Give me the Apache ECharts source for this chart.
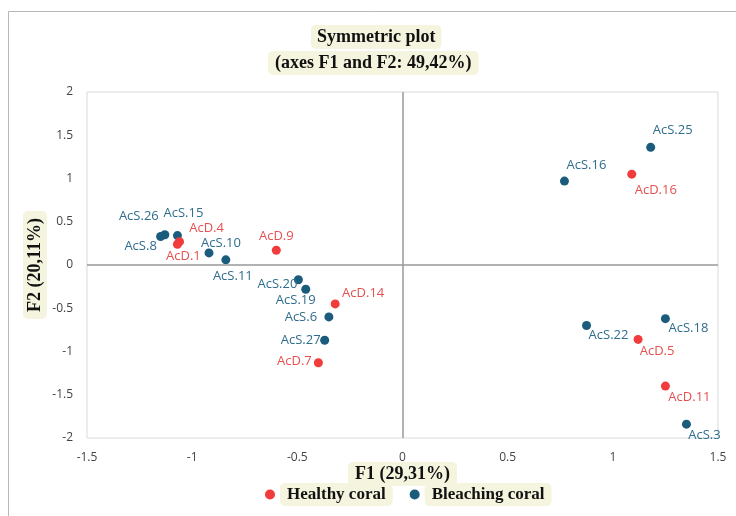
<!DOCTYPE html>
<html>
<head>
<meta charset="utf-8">
<script src="https://cdn.jsdelivr.net/npm/echarts@6/dist/echarts.min.js"></script>
<style>
  html, body { margin: 0; padding: 0; background: #fff; }
  #chart { width: 736px; height: 516px; }
</style>
</head>
<body>
<div id="chart"></div>
<script>
// healthy coral samples
const healthyNames = ['AcD.16', 'AcD.5', 'AcD.11', 'AcD.9', 'AcD.4', 'AcD.1', 'AcD.14', 'AcD.7']
const healthyX = [1.09, 1.12, 1.25, -0.60, -1.06, -1.07, -0.32, -0.40]
const healthyY = [1.05, -0.86, -1.40, 0.17, 0.27, 0.24, -0.45, -1.13]

// bleaching coral samples
const bleachingNames = ['AcS.25', 'AcS.16', 'AcS.22', 'AcS.18', 'AcS.3', 'AcS.10', 'AcS.11', 'AcS.26', 'AcS.8', 'AcS.15', 'AcS.20', 'AcS.19', 'AcS.6', 'AcS.27']
const bleachingX = [1.18, 0.77, 0.875, 1.25, 1.35, -0.92, -0.84, -1.13, -1.15, -1.07, -0.495, -0.46, -0.35, -0.37]
const bleachingY = [1.36, 0.97, -0.70, -0.62, -1.84, 0.14, 0.06, 0.35, 0.33, 0.34, -0.17, -0.28, -0.60, -0.87]

const xTicks = [-1.5, -1, -0.5, 0, 0.5, 1, 1.5]
const yTicks = [-2, -1.5, -1, -0.5, 0, 0.5, 1, 1.5, 2]

// where each label sits relative to its point (px)
const labelOffset = {
  'AcD.16': [24, 16], 'AcD.5': [19, 12], 'AcD.11': [24, 11], 'AcD.9': [0, -14],
  'AcD.4': [27, -13], 'AcD.1': [6, 12], 'AcD.14': [28, -11], 'AcD.7': [-24, -1],
  'AcS.25': [22, -17], 'AcS.16': [22, -16], 'AcS.22': [22, 10], 'AcS.18': [23, 10],
  'AcS.3': [18, 11], 'AcS.10': [12, -10], 'AcS.11': [7, 16], 'AcS.26': [-26, -18],
  'AcS.8': [-20, 10], 'AcS.15': [6, -22], 'AcS.20': [-21, 5], 'AcS.19': [-10, 11],
  'AcS.6': [-28, 0], 'AcS.27': [-24, 0],
}

const RED = '#f23b3b'
const BLUE = '#1b5b7c'
const BOX = '#f4f4df'
const serif = '"Liberation Serif", "DejaVu Serif", serif'

function points(names, xs, ys) {
  return names.map((n, i) => ({
    name: n,
    value: [xs[i], ys[i]],
    label: { offset: labelOffset[n] },
  }))
}

const chart = echarts.init(document.getElementById('chart'))

const boldSerif = {
  fontFamily: serif,
  fontWeight: 'bold',
  fontSize: 18,
  color: '#111',
}

const boxedName = {
  ...boldSerif,
  backgroundColor: BOX,
  padding: [3, 7],
  borderRadius: 5,
}

const tickLabel = {
  color: '#444',
  fontSize: 12,
  fontFamily: '"Open Sans", sans-serif',
  margin: 14,
}

chart.setOption({
  backgroundColor: '#fff',
  animation: false,
  title: [
    {
      text: 'Symmetric plot',
      left: 311,
      top: 25,
      padding: [3, 6],
      backgroundColor: BOX,
      borderRadius: 5,
      textStyle: boldSerif,
    },
    {
      text: '(axes F1 and F2: 49,42%)',
      left: 268,
      top: 51,
      padding: [3, 7],
      backgroundColor: BOX,
      borderRadius: 5,
      textStyle: boldSerif,
    },
  ],
  graphic: [
    {
      type: 'polyline',
      silent: true,
      shape: { points: [[8.5, 516], [8.5, 11.5], [736, 11.5]] },
      style: { stroke: '#b8b8b8', lineWidth: 1, fill: null },
    },
  ],
  legend: {
    top: 478,
    left: 260,
    icon: 'circle',
    itemWidth: 10,
    itemHeight: 10,
    itemGap: 17,
    textStyle: { ...boxedName, fontSize: 17 },
    data: ['Healthy coral', 'Bleaching coral'],
  },
  grid: {
    left: 87,
    right: 18,
    top: 92,
    bottom: 78,
    show: true,
    borderColor: '#d9d9d9',
    borderWidth: 1,
  },
  xAxis: {
    type: 'value',
    min: xTicks[0],
    max: xTicks[xTicks.length - 1],
    interval: 0.5,
    name: 'F1 (29,31%)',
    nameLocation: 'middle',
    nameGap: 24,
    nameMoveOverlap: false,
    nameTextStyle: boxedName,
    axisLine: { show: false },
    axisTick: { show: false },
    splitLine: { show: false },
    axisLabel: tickLabel,
  },
  yAxis: {
    type: 'value',
    min: yTicks[0],
    max: yTicks[yTicks.length - 1],
    interval: 0.5,
    name: 'F2 (20,11%)',
    nameLocation: 'middle',
    nameGap: 40,
    nameMoveOverlap: false,
    nameTextStyle: boxedName,
    axisLine: { show: false },
    axisTick: { show: false },
    splitLine: { show: false },
    axisLabel: tickLabel,
  },
  series: [
    {
      name: 'Healthy coral',
      type: 'scatter',
      symbolSize: 9,
      itemStyle: { color: RED, opacity: 1 },
      label: {
        show: true,
        position: 'inside',
        formatter: '{b}',
        color: '#e65050',
        fontSize: 13,
        fontFamily: '"Open Sans", sans-serif',
      },
      data: points(healthyNames, healthyX, healthyY),
      markLine: {
        silent: true,
        symbol: 'none',
        label: { show: false },
        lineStyle: { color: '#999', type: 'solid', width: 1.5 },
        data: [{ xAxis: 0 }, { yAxis: 0 }],
      },
      z: 3,
    },
    {
      name: 'Bleaching coral',
      type: 'scatter',
      symbolSize: 9,
      itemStyle: { color: BLUE, opacity: 1 },
      label: {
        show: true,
        position: 'inside',
        formatter: '{b}',
        color: '#2f6d8c',
        fontSize: 13,
        fontFamily: '"Open Sans", sans-serif',
      },
      data: points(bleachingNames, bleachingX, bleachingY),
      z: 2,
    },
  ],
})
</script>
</body>
</html>
